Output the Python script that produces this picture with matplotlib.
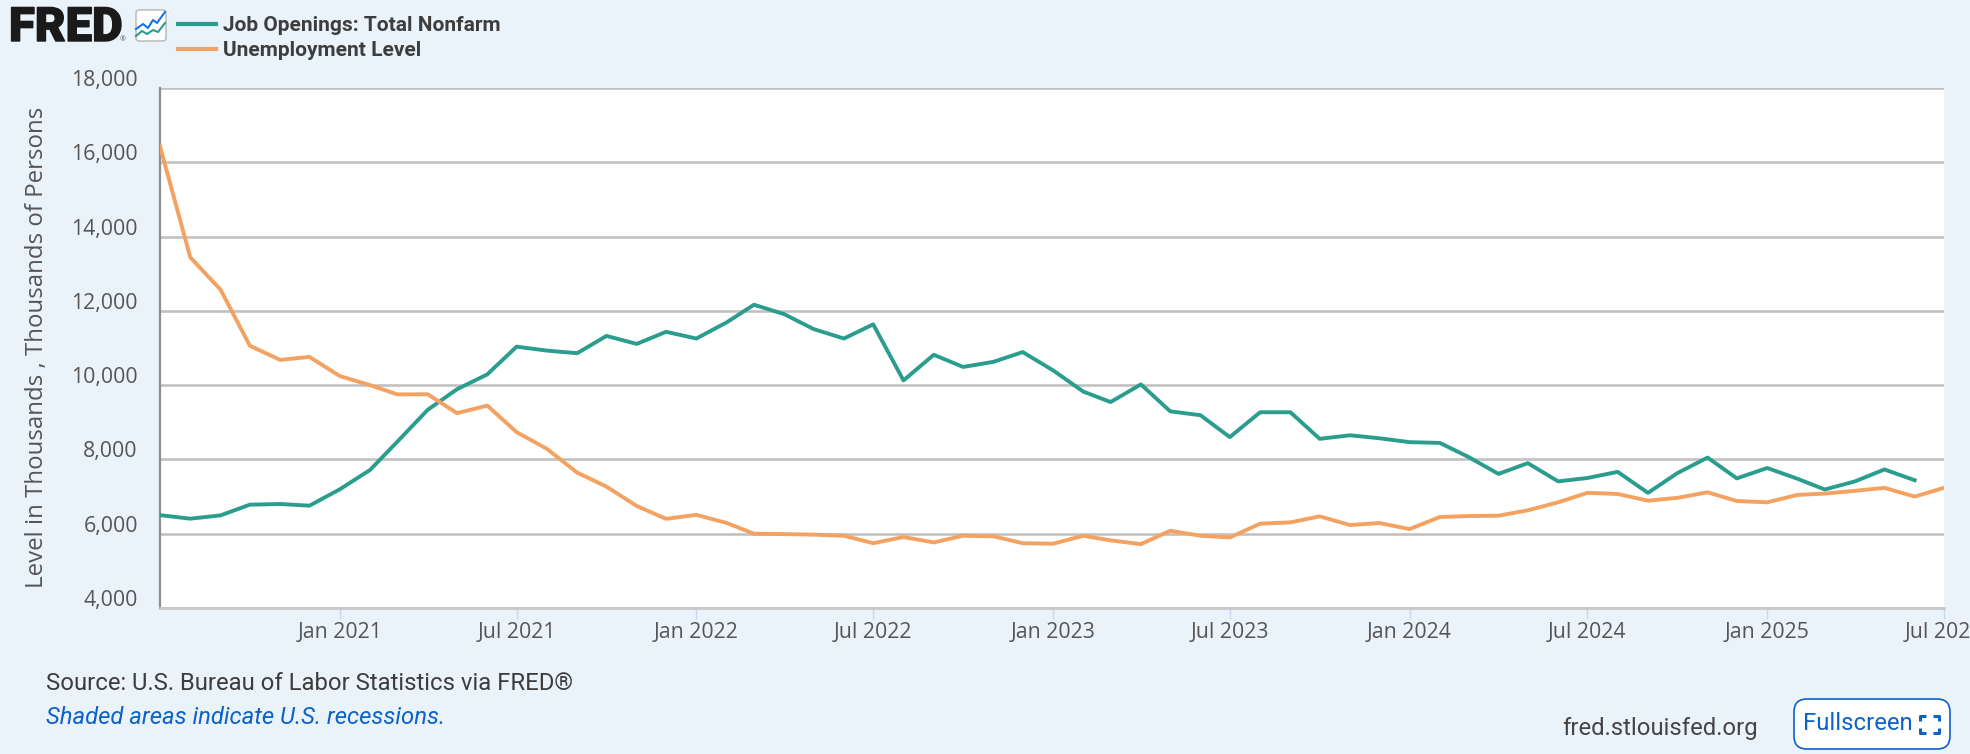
import matplotlib
matplotlib.use('Agg')
import matplotlib.pyplot as plt
import matplotlib.patheffects as pe
import pandas as pd
from matplotlib.patches import FancyBboxPatch
from matplotlib.transforms import ScaledTranslation

plt.rcParams['font.family'] = ['Open Sans', 'DejaVu Sans']

# thousands of persons, monthly from Jul 2020
job_openings = [6500, 6405, 6494, 6782, 6800, 6755, 7195, 7717, 8480, 9335, 9890, 10290,
                11036, 10930, 10860, 11325, 11110, 11436, 11255, 11690, 12165, 11910, 11510, 11255,
                11636, 10127, 10818, 10490, 10627, 10890, 10400, 9827, 9545, 10020, 9295, 9190,
                8600, 9270, 9270, 8555, 8650, 8570, 8465, 8445, 8070, 7610, 7900, 7410,
                7500, 7665, 7100, 7630, 8050, 7490, 7770, 7480, 7190, 7410, 7730, 7440]
unemployment = [16430, 13440, 12570, 11060, 10680, 10760, 10245, 10000, 9750, 9755, 9245, 9450,
                8735, 8285, 7645, 7267, 6746, 6400, 6508, 6290, 6000, 5990, 5975, 5945,
                5745, 5910, 5765, 5945, 5930, 5745, 5730, 5945, 5820, 5720, 6080, 5945,
                5900, 6270, 6305, 6467, 6233, 6288, 6125, 6450, 6475, 6485, 6630, 6845,
                7100, 7070, 6890, 6965, 7115, 6880, 6845, 7045, 7080, 7155, 7235, 7000, 7235]
months = pd.date_range('2020-07-01', periods=len(unemployment), freq='MS')

y_ticks = [4000, 6000, 8000, 10000, 12000, 14000, 16000, 18000]
x_tick_labels = ['Jan 2021', 'Jul 2021', 'Jan 2022', 'Jul 2022', 'Jan 2023', 'Jul 2023',
                 'Jan 2024', 'Jul 2024', 'Jan 2025', 'Jul 2025']
x_ticks = pd.to_datetime(x_tick_labels, format='%b %Y')

W, H = 1970, 754
BG = '#eaf2fa'
TEAL = '#2a9d8f'
ORANGE = '#f4a261'
BLUE = '#0b62c9'
TEXT = '#555555'

fig = plt.figure(figsize=(W / 100, H / 100), dpi=100, facecolor=BG)

ax = fig.add_axes([160 / W, 1 - 608 / H, (1944 - 160) / W, (608 - 88) / H], facecolor='white')
ax.plot(months[:len(job_openings)], job_openings, color=TEAL, lw=2.8, label='Job Openings: Total Nonfarm', zorder=3)
ax.plot(months, unemployment, color=ORANGE, lw=2.8, label='Unemployment Level', zorder=4)

ax.set_xlim(months[0], months[-1])
ax.set_ylim(4000, 18000)
ax.set_yticks(y_ticks)
ax.set_yticklabels([f'{v:,}' for v in y_ticks], fontsize=15.3, color=TEXT, va='bottom')
ax.set_xticks(x_ticks)
ax.set_xticklabels(x_tick_labels, fontsize=15.3, color=TEXT)
ax.tick_params(axis='y', length=0, pad=16)
ax.tick_params(axis='x', length=8, width=1, color='#ccd6eb', pad=2)
ax.grid(axis='y', color='#c1c1c1', lw=1.9, zorder=1)
ax.set_axisbelow(True)
for side in ['top', 'right']:
    ax.spines[side].set_visible(False)
ax.spines['left'].set_color('#8f8f8f')
ax.spines['left'].set_linewidth(1.6)
ax.spines['bottom'].set_color('#c8c8c8')
ax.spines['bottom'].set_linewidth(1.9)
# labels sit a little above their gridlines
down = ScaledTranslation(0, -3 / 100, fig.dpi_scale_trans)
for label in ax.get_yticklabels():
    label.set_transform(label.get_transform() + down)

leg = ax.legend(loc='upper left', bbox_to_anchor=(178 / W, 1 - 16 / H), bbox_transform=fig.transFigure,
                frameon=False, ncol=1, handlelength=1.83, handletextpad=0.34, labelspacing=0.28,
                borderpad=0, borderaxespad=0,
                prop={'family': 'Roboto', 'weight': 'bold', 'size': 15})
for line, text in zip(leg.get_lines(), leg.get_texts()):
    line.set_linewidth(3)
    text.set_color('#3d3d3d')

fig.text(37 / W, 1 - 347 / H, 'Level in Thousands , Thousands of Persons', rotation=90,
         ha='center', va='center', fontsize=17.3, color=TEXT)

# page furniture in pixel coordinates
page = fig.add_axes([0, 0, 1, 1], facecolor='none')
page.set_xlim(0, W)
page.set_ylim(H, 0)
page.axis('off')

logo = page.text(9, 41, 'FRED', fontsize=34, fontweight='black', family='Roboto', color='#1a1a1a', va='baseline')
logo.set_path_effects([pe.withStroke(linewidth=1.0, foreground='#1a1a1a')])
page.text(120, 41, '®', fontsize=5, color='#555555', va='baseline')
page.add_patch(FancyBboxPatch((136, 10), 30, 31, boxstyle='round,pad=0,rounding_size=3',
                              fc='white', ec='#b5b5b5', lw=1))
page.plot([136, 143, 148, 153, 157, 165], [29, 24, 28, 20, 23, 12], color='#1a73e8', lw=1.5)
page.plot([136, 142, 147, 153, 158, 165], [36, 31, 34, 30, 32, 23], color=TEAL, lw=1.5)

page.text(46, 683, 'Source: U.S. Bureau of Labor Statistics via FRED®', family='Roboto', fontsize=17.2,
          color='#3d3d3d', va='center')
page.text(46, 717, 'Shaded areas indicate U.S. recessions.', family='Roboto', style='italic', fontsize=17.2,
          color=BLUE, va='center')
page.text(1562, 728, 'fred.stlouisfed.org', family='Roboto', fontsize=17.2, color='#444444', va='center')

page.add_patch(FancyBboxPatch((1794, 699), 156, 50, boxstyle='round,pad=0,rounding_size=13',
                              fc='white', ec=BLUE, lw=1.2))
page.text(1803, 724, 'Fullscreen', family='Roboto', fontsize=17.2, color=BLUE, va='center')
for cx, cy, dx, dy in [(1920, 716, 1, 1), (1939, 716, -1, 1), (1920, 733, 1, -1), (1939, 733, -1, -1)]:
    page.plot([cx + 6 * dx, cx, cx], [cy, cy, cy + 5 * dy], color=BLUE, lw=2.2, solid_capstyle='butt')

fig.savefig('out.png', dpi=100, facecolor=BG)
